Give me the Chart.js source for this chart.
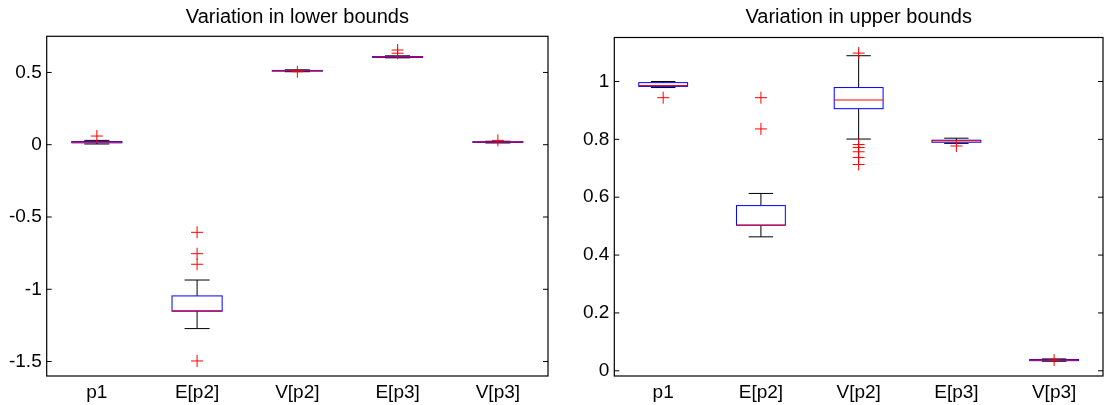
<!DOCTYPE html>
<html>
<head>
<meta charset="utf-8">
<script src="https://cdn.jsdelivr.net/npm/chart.js@4/dist/chart.umd.min.js"></script>
<style>
html, body { margin: 0; padding: 0; background: #fff; overflow: hidden; width: 1106px; height: 405px; }
canvas { position: absolute; top: 0; }
#lower { left: 0; }
#upper { left: 556px; }
</style>
</head>
<body>
<canvas id="lower" width="556" height="405"></canvas>
<canvas id="upper" width="554" height="405"></canvas>
<script>
var categories = ['p1', 'E[p2]', 'V[p2]', 'E[p3]', 'V[p3]'];

// lower bounds: whisker ends, quartiles, medians, outliers
var lowerMin    = [0.005, -1.272, 0.505, 0.601, 0.012];
var lowerQ1     = [0.013, -1.152, 0.509, 0.604, 0.016];
var lowerMedian = [0.018, -1.148, 0.512, 0.608, 0.019];
var lowerQ3     = [0.022, -1.046, 0.514, 0.610, 0.021];
var lowerMax    = [0.030, -0.936, 0.518, 0.615, 0.024];
var lowerOutliers = [[0.06], [-0.606, -0.754, -0.827, -1.496], [0.505], [0.655, 0.633], [0.03]];
var lowerTicks = [-1.5, -1, -0.5, 0, 0.5];

// upper bounds
var upperMin    = [0.979, 0.463, 0.801, 0.786, 0.033];
var upperQ1     = [0.983, 0.503, 0.906, 0.790, 0.035];
var upperMedian = [0.986, 0.504, 0.936, 0.795, 0.037];
var upperQ3     = [0.996, 0.571, 0.979, 0.797, 0.039];
var upperMax    = [1.000, 0.613, 1.089, 0.804, 0.041];
var upperOutliers = [[0.944], [0.944, 0.836], [1.098, 0.782, 0.772, 0.757, 0.737, 0.713], [0.777], [0.037]];
var upperTicks = [0, 0.2, 0.4, 0.6, 0.8, 1];

var fontFamily = '"Liberation Sans", Arial, Helvetica, sans-serif';

function boxPlugin(stats) {
  return {
    id: 'boxes',
    beforeDatasetsDraw: function(chart) {
      var ctx = chart.ctx, xs = chart.scales.x, ys = chart.scales.y;
      ctx.save();
      ctx.lineWidth = 1;
      for (var i = 0; i < categories.length; i++) {
        var x = xs.getPixelForValue(i + 1);
        var hw = xs.getPixelForValue(i + 1.25) - x;
        var cw = hw / 2;
        var yLo = ys.getPixelForValue(stats.min[i]);
        var yQ1 = ys.getPixelForValue(stats.q1[i]);
        var yMed = ys.getPixelForValue(stats.median[i]);
        var yQ3 = ys.getPixelForValue(stats.q3[i]);
        var yHi = ys.getPixelForValue(stats.max[i]);
        // whiskers + caps
        ctx.strokeStyle = '#000';
        ctx.beginPath();
        ctx.moveTo(x, yQ3); ctx.lineTo(x, yHi);
        ctx.moveTo(x, yQ1); ctx.lineTo(x, yLo);
        ctx.moveTo(x - cw, yHi); ctx.lineTo(x + cw, yHi);
        ctx.moveTo(x - cw, yLo); ctx.lineTo(x + cw, yLo);
        ctx.stroke();
        // box
        ctx.strokeStyle = '#0000ff';
        ctx.strokeRect(x - hw, yQ3, 2 * hw, yQ1 - yQ3);
        // median
        ctx.strokeStyle = '#ff0000';
        ctx.beginPath();
        ctx.moveTo(x - hw, yMed); ctx.lineTo(x + hw, yMed);
        ctx.stroke();
      }
      ctx.restore();
    }
  };
}

var framePlugin = {
  id: 'frame',
  afterDraw: function(chart) {
    var ctx = chart.ctx, a = chart.chartArea, ys = chart.scales.y;
    ctx.save();
    ctx.strokeStyle = '#000';
    ctx.lineWidth = 1.2;
    ctx.strokeRect(a.left, a.top, a.right - a.left, a.bottom - a.top);
    ctx.lineWidth = 1;
    ctx.beginPath();
    ys.ticks.forEach(function(t) {
      var y = ys.getPixelForValue(t.value);
      ctx.moveTo(a.left, y); ctx.lineTo(a.left + 5, y);
      ctx.moveTo(a.right, y); ctx.lineTo(a.right - 5, y);
    });
    ctx.stroke();
    ctx.restore();
  }
};

function makeChart(id, title, stats, outliers, yMin, yMax, yTicks, yWidth, padRight, titleBottom) {
  var pts = [];
  outliers.forEach(function(list, i) {
    list.forEach(function(v) { pts.push({ x: i + 1, y: v }); });
  });
  return new Chart(document.getElementById(id).getContext('2d'), {
    type: 'scatter',
    data: {
      datasets: [{
        data: pts,
        pointStyle: 'cross',
        pointRadius: 6,
        borderColor: '#ff0000',
        backgroundColor: '#ff0000',
        borderWidth: 1
      }]
    },
    options: {
      responsive: false,
      animation: false,
      layout: { padding: { left: 0, right: padRight, top: 0, bottom: 0 } },
      plugins: {
        legend: { display: false },
        tooltip: { enabled: false },
        title: {
          display: true,
          fullSize: false,
          text: title,
          color: '#000',
          font: { family: fontFamily, size: 20, weight: 'normal' },
          padding: { top: 5.5, bottom: titleBottom }
        }
      },
      scales: {
        x: {
          type: 'linear',
          min: 0.5,
          max: 5.5,
          grid: { display: false, drawTicks: false },
          border: { display: false },
          afterBuildTicks: function(s) {
            s.ticks = categories.map(function(c, i) { return { value: i + 1 }; });
          },
          afterFit: function(s) { s.height = 29; },
          ticks: {
            color: '#000',
            font: { family: fontFamily, size: 19 },
            padding: 5.6,
            maxRotation: 0,
            autoSkip: false,
            callback: function(v) { return categories[Math.round(v) - 1]; }
          }
        },
        y: {
          min: yMin,
          max: yMax,
          grid: { display: false, drawTicks: false },
          border: { display: false },
          afterBuildTicks: function(s) {
            s.ticks = yTicks.map(function(v) { return { value: v }; });
          },
          afterFit: function(s) { s.width = yWidth; },
          ticks: {
            color: '#000',
            font: { family: fontFamily, size: 19 },
            padding: 5,
            callback: function(v) { return String(v); }
          }
        }
      }
    },
    plugins: [boxPlugin(stats), framePlugin]
  });
}

makeChart('lower', 'Variation in lower bounds',
  { min: lowerMin, q1: lowerQ1, median: lowerMedian, q3: lowerQ3, max: lowerMax },
  lowerOutliers, -1.6, 0.75, lowerTicks, 46.7, 8, 6.8);

makeChart('upper', 'Variation in upper bounds',
  { min: upperMin, q1: upperQ1, median: upperMedian, q3: upperQ3, max: upperMax },
  upperOutliers, -0.018, 1.152, upperTicks, 58.3, 3.8, 8.0);
</script>
</body>
</html>
